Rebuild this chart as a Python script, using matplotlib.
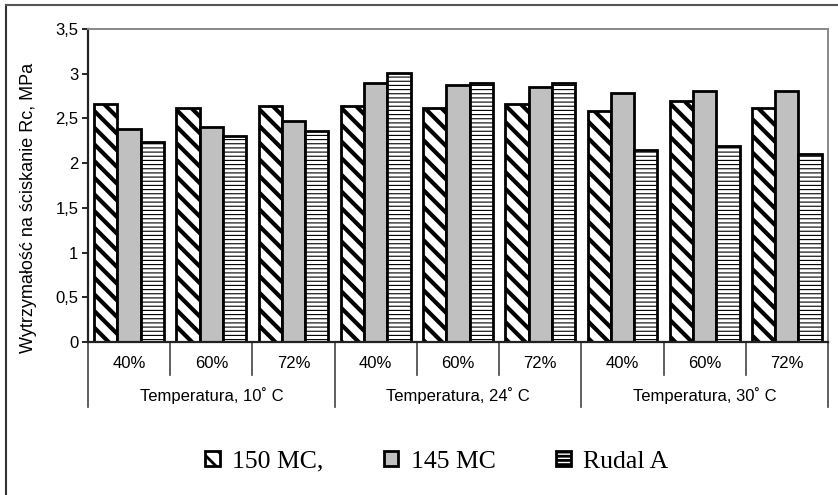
import numpy as np
from matplotlib import pyplot as plt
from matplotlib.lines import Line2D

# Dane z wykresu
wilgotnosc = ["40%", "60%", "72%"]
temperatury = ["Temperatura, 10˚ C", "Temperatura, 24˚ C", "Temperatura, 30˚ C"]
serie = ["150 MC,", "145 MC", "Rudal A"]
mc150 = [2.66, 2.62, 2.64, 2.64, 2.62, 2.66, 2.58, 2.69, 2.62]
mc145 = [2.38, 2.40, 2.47, 2.90, 2.87, 2.85, 2.79, 2.81, 2.81]
rudal = [2.24, 2.30, 2.36, 3.01, 2.90, 2.90, 2.15, 2.19, 2.10]
y_ticks = [0, 0.5, 1, 1.5, 2, 2.5, 3, 3.5]

plt.rcParams['font.family'] = ['Liberation Sans', 'DejaVu Sans']

fig = plt.figure(figsize=(8.38, 4.95), dpi=100)
ax = fig.add_axes([0.105, 0.309, 0.883, 0.6324])

n = len(mc150)
x = np.arange(n)
w = 0.283

style = [
    dict(facecolor="white", hatch="\\\\", hlw=3.0),
    dict(facecolor="#c0c0c0", hatch=None, hlw=1.0),
    dict(facecolor="white", hatch="----", hlw=0.8),
]
dane = [mc150, mc145, rudal]

for i, (vals, st, nazwa) in enumerate(zip(dane, style, serie)):
    plt.rcParams['hatch.linewidth'] = st["hlw"]
    bars = ax.bar(x + (i - 1) * w, vals, width=w, color=st["facecolor"],
                  edgecolor="black", linewidth=2.0, hatch=st["hatch"], label=nazwa)
    for b in bars:
        if hasattr(b, "set_hatch_linewidth"):
            b.set_hatch_linewidth(st["hlw"])

ax.set_xlim(-0.5, n - 0.5)
ax.set_ylim(0, 3.5)
ax.set_yticks(y_ticks)
ax.set_yticklabels([("%g" % t).replace(".", ",") for t in y_ticks], fontsize=12)
ax.tick_params(axis="y", direction="out", length=4, width=1.2, pad=3)
ax.set_xticks([])

ax.spines["left"].set_color("#222222")
ax.spines["left"].set_linewidth(1.6)
ax.spines["bottom"].set_color("#222222")
ax.spines["bottom"].set_linewidth(1.6)
ax.spines["top"].set_color("#888888")
ax.spines["top"].set_linewidth(1.4)
ax.spines["right"].set_color("#888888")
ax.spines["right"].set_linewidth(1.4)

ax.set_ylabel("Wytrzymałość na ściskanie Rc, MPa", fontsize=13)
ax.yaxis.set_label_coords(-0.069, 0.43)

# Oś kategorii w dwóch poziomach
tr = ax.get_xaxis_transform()
for k in range(n):
    ax.text(x[k], -0.067, wilgotnosc[k % 3], transform=tr, ha="center", va="center",
            fontsize=12)
for g in range(3):
    ax.text(g * 3 + 1, -0.17, temperatury[g], transform=tr, ha="center", va="center",
            fontsize=12)
for k in range(n + 1):
    dol = -0.208 if k % 3 == 0 else -0.105
    ax.add_line(Line2D([k - 0.5, k - 0.5], [0, dol], transform=tr, color="#444444",
                       linewidth=1.2, clip_on=False))

plt.rcParams['hatch.linewidth'] = 2.0
leg = ax.legend(loc="center", bbox_to_anchor=(0.5215, 0.067), bbox_transform=fig.transFigure,
                ncol=3, frameon=False, prop={"family": "Liberation Serif", "size": 18.5},
                handlelength=0.55, handleheight=0.55, handletextpad=0.5, columnspacing=2.35)

# Ramka wykresu
fig.add_artist(Line2D([6 / 838, 6 / 838], [0, 1 - 5 / 495], color="#333333", linewidth=1.5))
fig.add_artist(Line2D([6 / 838, 1], [1 - 5 / 495, 1 - 5 / 495], color="#555555", linewidth=1.5))

plt.savefig("out.png", dpi=100)
